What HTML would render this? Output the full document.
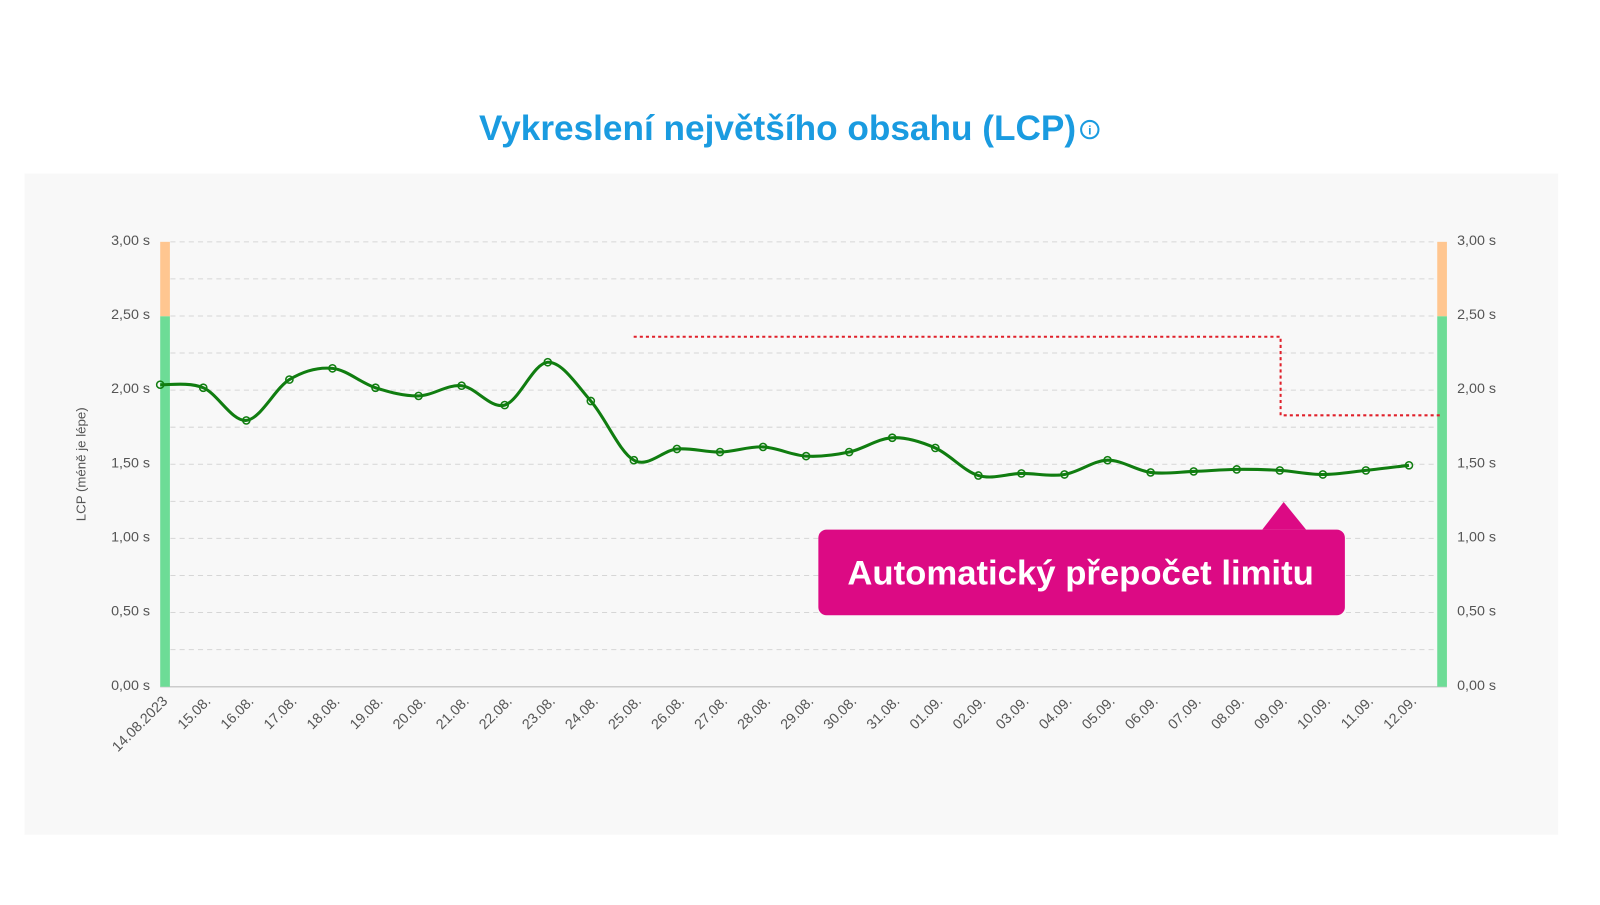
<!DOCTYPE html>
<html><head><meta charset="utf-8"><style>
body{margin:0;width:1600px;height:900px;background:#fff;font-family:"Liberation Sans",sans-serif;overflow:hidden}
</style></head><body>
<svg width="1600" height="900" xmlns="http://www.w3.org/2000/svg" font-family="Liberation Sans, sans-serif">
<g transform="scale(1.0204)">
<text x="762" y="137" text-anchor="middle" font-size="34.5" font-weight="bold" fill="#1a9be0">Vykreslení největšího obsahu (LCP)</text>
<circle cx="1068" cy="127" r="8.5" fill="none" stroke="#1a9be0" stroke-width="2"/>
<text x="1068" y="132" text-anchor="middle" font-size="12" font-weight="bold" fill="#1a9be0">i</text>
<rect x="24" y="170" width="1503" height="648" fill="#f8f8f8"/>
<g id="grid" stroke="#d6d6d6" stroke-dasharray="5,4" stroke-width="1"></g>
<line x1="157" y1="673" x2="1418" y2="673" stroke="#ccc" stroke-width="1.5"/>
<rect x="157" y="237" width="9.5" height="73" fill="#ffc690"/>
<rect x="157" y="310" width="9.5" height="363" fill="#6ddc96"/>
<rect x="1408.5" y="237" width="9.5" height="73" fill="#ffc690"/>
<rect x="1408.5" y="310" width="9.5" height="363" fill="#6ddc96"/>
<g id="ylab" font-size="14" fill="#555"></g>
<text transform="translate(84,455) rotate(-90)" text-anchor="middle" font-size="13" fill="#555">LCP (méně je lépe)</text>
<path d="M621,330 H1255 V407 H1414" fill="none" stroke="#e0202a" stroke-width="2" stroke-dasharray="3,3"/>
<path id="line" fill="none" stroke="#107d10" stroke-width="3"/>
<g id="pts" fill="none" stroke="#107d10" stroke-width="1.5"></g>
<g id="xlab" font-size="14" fill="#555"></g>
<path d="M1237,519 L1258,492 L1280,519 Z" fill="#dc0a84"/>
<rect x="802" y="519" width="516" height="84" rx="8" fill="#dc0a84"/>
<text x="1059" y="573" text-anchor="middle" font-size="34" font-weight="bold" fill="#fff">Automatický přepočet limitu</text>
</g>
</svg>
<script>
var ns="http://www.w3.org/2000/svg";
function el(t,a,p,txt){var e=document.createElementNS(ns,t);for(var k in a)e.setAttribute(k,a[k]);if(txt)e.textContent=txt;document.getElementById(p).appendChild(e);return e;}
for(var i=0;i<12;i++){var y=237+i*36.33;el('line',{x1:167,x2:1408,y1:y,y2:y},'grid');}
var yl=['3,00 s','2,50 s','2,00 s','1,50 s','1,00 s','0,50 s','0,00 s'];
for(var i=0;i<7;i++){var y=240+i*72.67;el('text',{x:147,y:y,'text-anchor':'end'},'ylab',yl[i]);el('text',{x:1428,y:y},'ylab',yl[i]);}
var ys=[377,380,412,372,361,380,388,378,397,355,393,451,440,443,438,447,443,429,439,466,464,465,451,463,462,460,461,465,461,456];
var labs=['14.08.2023','15.08.','16.08.','17.08.','18.08.','19.08.','20.08.','21.08.','22.08.','23.08.','24.08.','25.08.','26.08.','27.08.','28.08.','29.08.','30.08.','31.08.','01.09.','02.09.','03.09.','04.09.','05.09.','06.09.','07.09.','08.09.','09.09.','10.09.','11.09.','12.09.'];
var P=ys.map(function(y,i){return [157+i*42.2,y];});
var d='M'+P[0][0]+','+P[0][1];
for(var i=0;i<P.length-1;i++){var p0=P[Math.max(i-1,0)],p1=P[i],p2=P[i+1],p3=P[Math.min(i+2,P.length-1)];
var c1=[p1[0]+(p2[0]-p0[0])/6,p1[1]+(p2[1]-p0[1])/6],c2=[p2[0]-(p3[0]-p1[0])/6,p2[1]-(p3[1]-p1[1])/6];
d+=' C'+c1+' '+c2+' '+p2;}
document.getElementById('line').setAttribute('d',d);
P.forEach(function(p,i){el('circle',{cx:p[0],cy:p[1],r:3.5},'pts');
el('text',{transform:'translate('+(p[0]+8)+',688) rotate(-45)','text-anchor':'end'},'xlab',labs[i]);});
</script>
</body></html>
